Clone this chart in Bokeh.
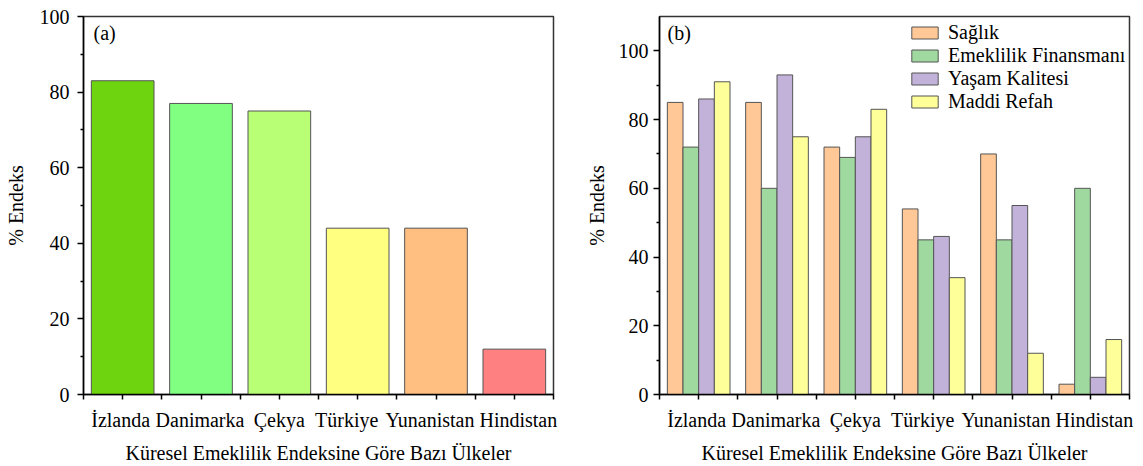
from bokeh.plotting import figure
from bokeh.layouts import row
from bokeh.models import ColumnDataSource, FixedTicker, Range1d, Legend, LegendItem, Label
from bokeh.transform import dodge
from bokeh.embed import file_html
from bokeh.resources import INLINE

# Country categories and index values
countries = ["İzlanda", "Danimarka", "Çekya", "Türkiye", "Yunanistan", "Hindistan"]
overall_index = [83, 77, 75, 44, 44, 12]

series_names = ["Sağlık", "Emeklilik Finansmanı", "Yaşam Kalitesi", "Maddi Refah"]
saglik = [85, 85, 72, 54, 70, 3]
emeklilik_finansmani = [72, 60, 69, 45, 45, 60]
yasam_kalitesi = [86, 93, 75, 46, 55, 5]
maddi_refah = [91, 75, 83, 34, 12, 16]

y_ticks = [0, 20, 40, 60, 80, 100]
y_minor_ticks = [10, 30, 50, 70, 90]

x_title = "Küresel Emeklilik Endeksine Göre Bazı Ülkeler"
y_title = "% Endeks"

overall_colors = ["#6dd40f", "#80ff80", "#b9ff75", "#ffff80", "#ffbf80", "#ff8080"]
series_colors = ["#ffc896", "#9fd99f", "#c2b2d9", "#ffff99"]

FONT = "Liberation Serif"
FS = "20px"
OUTLINE = "#555555"
FRAME_W = 470  # plot frame width in px for both panels
# small horizontal nudges (px) so that neighbouring country names do not collide
NAME_NUDGE_PX = [-2, -1, 0, -11, -6, 4]


def make_figure(width, ymax, border_left, border_right, label_standoff, title_standoff):
    p = figure(width=width, height=466, x_range=Range1d(-0.5, 5.5), y_range=Range1d(0, ymax),
               output_backend="svg", toolbar_location=None,
               min_border_left=border_left, min_border_right=border_right,
               min_border_top=16, min_border_bottom=72)
    p.xgrid.visible = False
    p.ygrid.visible = False
    p.outline_line_color = "#333333"
    p.outline_line_width = 1.5
    p.background_fill_color = "white"
    p.border_fill_color = "white"

    n = len(countries)
    px_per_cat = FRAME_W / n
    label_pos = [i + d / px_per_cat for i, d in enumerate(NAME_NUDGE_PX)]
    xa = p.xaxis[0]
    # names sit on (slightly nudged) major ticks; tick marks are drawn as minor ticks
    xa.ticker = FixedTicker(ticks=label_pos,
                            minor_ticks=sorted([i - 0.5 for i in range(n + 1)] + list(range(n))))
    xa.major_label_overrides = {pos: c for pos, c in zip(label_pos, countries)}
    xa.major_tick_out = 0
    xa.major_tick_line_alpha = 0
    xa.minor_tick_out = 5
    xa.major_label_standoff = 9
    xa.axis_label = x_title
    xa.axis_label_standoff = 8

    ya = p.yaxis[0]
    ya.ticker = FixedTicker(ticks=y_ticks, minor_ticks=y_minor_ticks)
    ya.major_tick_out = 6
    ya.minor_tick_out = 3
    ya.major_label_standoff = label_standoff
    ya.axis_label = y_title
    ya.axis_label_standoff = title_standoff

    for ax in (xa, ya):
        ax.major_tick_in = 0
        ax.minor_tick_in = 0
        ax.axis_line_width = 1.5
        ax.major_tick_line_width = 1.5
        ax.minor_tick_line_width = 1.5
        ax.axis_line_color = "black"
        ax.major_tick_line_color = "black"
        ax.minor_tick_line_color = "black"
        ax.major_label_text_font = FONT
        ax.major_label_text_font_size = FS
        ax.major_label_text_color = "black"
        ax.axis_label_text_font = FONT
        ax.axis_label_text_font_size = FS
        ax.axis_label_text_font_style = "normal"
        ax.axis_label_text_color = "black"
    return p


# (a) overall index per country
p1 = make_figure(580, 100, 83, 27, 8, 10)
src1 = ColumnDataSource(dict(x=list(range(len(countries))), value=overall_index, color=overall_colors))
p1.vbar(x="x", top="value", width=0.8, source=src1, fill_color="color",
        line_color=OUTLINE, line_width=1)
p1.add_layout(Label(x=-0.5, y=100, x_offset=10, y_offset=-5, text="(a)", text_font=FONT,
                    text_font_size=FS, text_baseline="top", text_color="black"))

# (b) sub-index breakdown per country
p2 = make_figure(563, 110, 79, 14, 5, 8)
src2 = ColumnDataSource(dict(x=list(range(len(countries))), s0=saglik, s1=emeklilik_finansmani,
                             s2=yasam_kalitesi, s3=maddi_refah))
offsets = [-0.3, -0.1, 0.1, 0.3]
items = []
for k, (name, color) in enumerate(zip(series_names, series_colors)):
    r = p2.vbar(x=dodge("x", offsets[k]), top=f"s{k}", width=0.2, source=src2,
                fill_color=color, line_color=OUTLINE, line_width=1)
    items.append(LegendItem(label=name, renderers=[r]))

legend = Legend(items=items, location=(244, 276), margin=0, padding=5, spacing=-1,
                glyph_width=33, glyph_height=15, label_standoff=7,
                label_text_font=FONT, label_text_font_size=FS, label_text_color="black",
                background_fill_alpha=0, border_line_alpha=0)
p2.add_layout(legend)
p2.add_layout(Label(x=-0.5, y=110, x_offset=8, y_offset=-5, text="(b)", text_font=FONT,
                    text_font_size=FS, text_baseline="top", text_color="black"))

layout = row(p1, p2)
open("out.html", "w").write(file_html(layout, INLINE))
